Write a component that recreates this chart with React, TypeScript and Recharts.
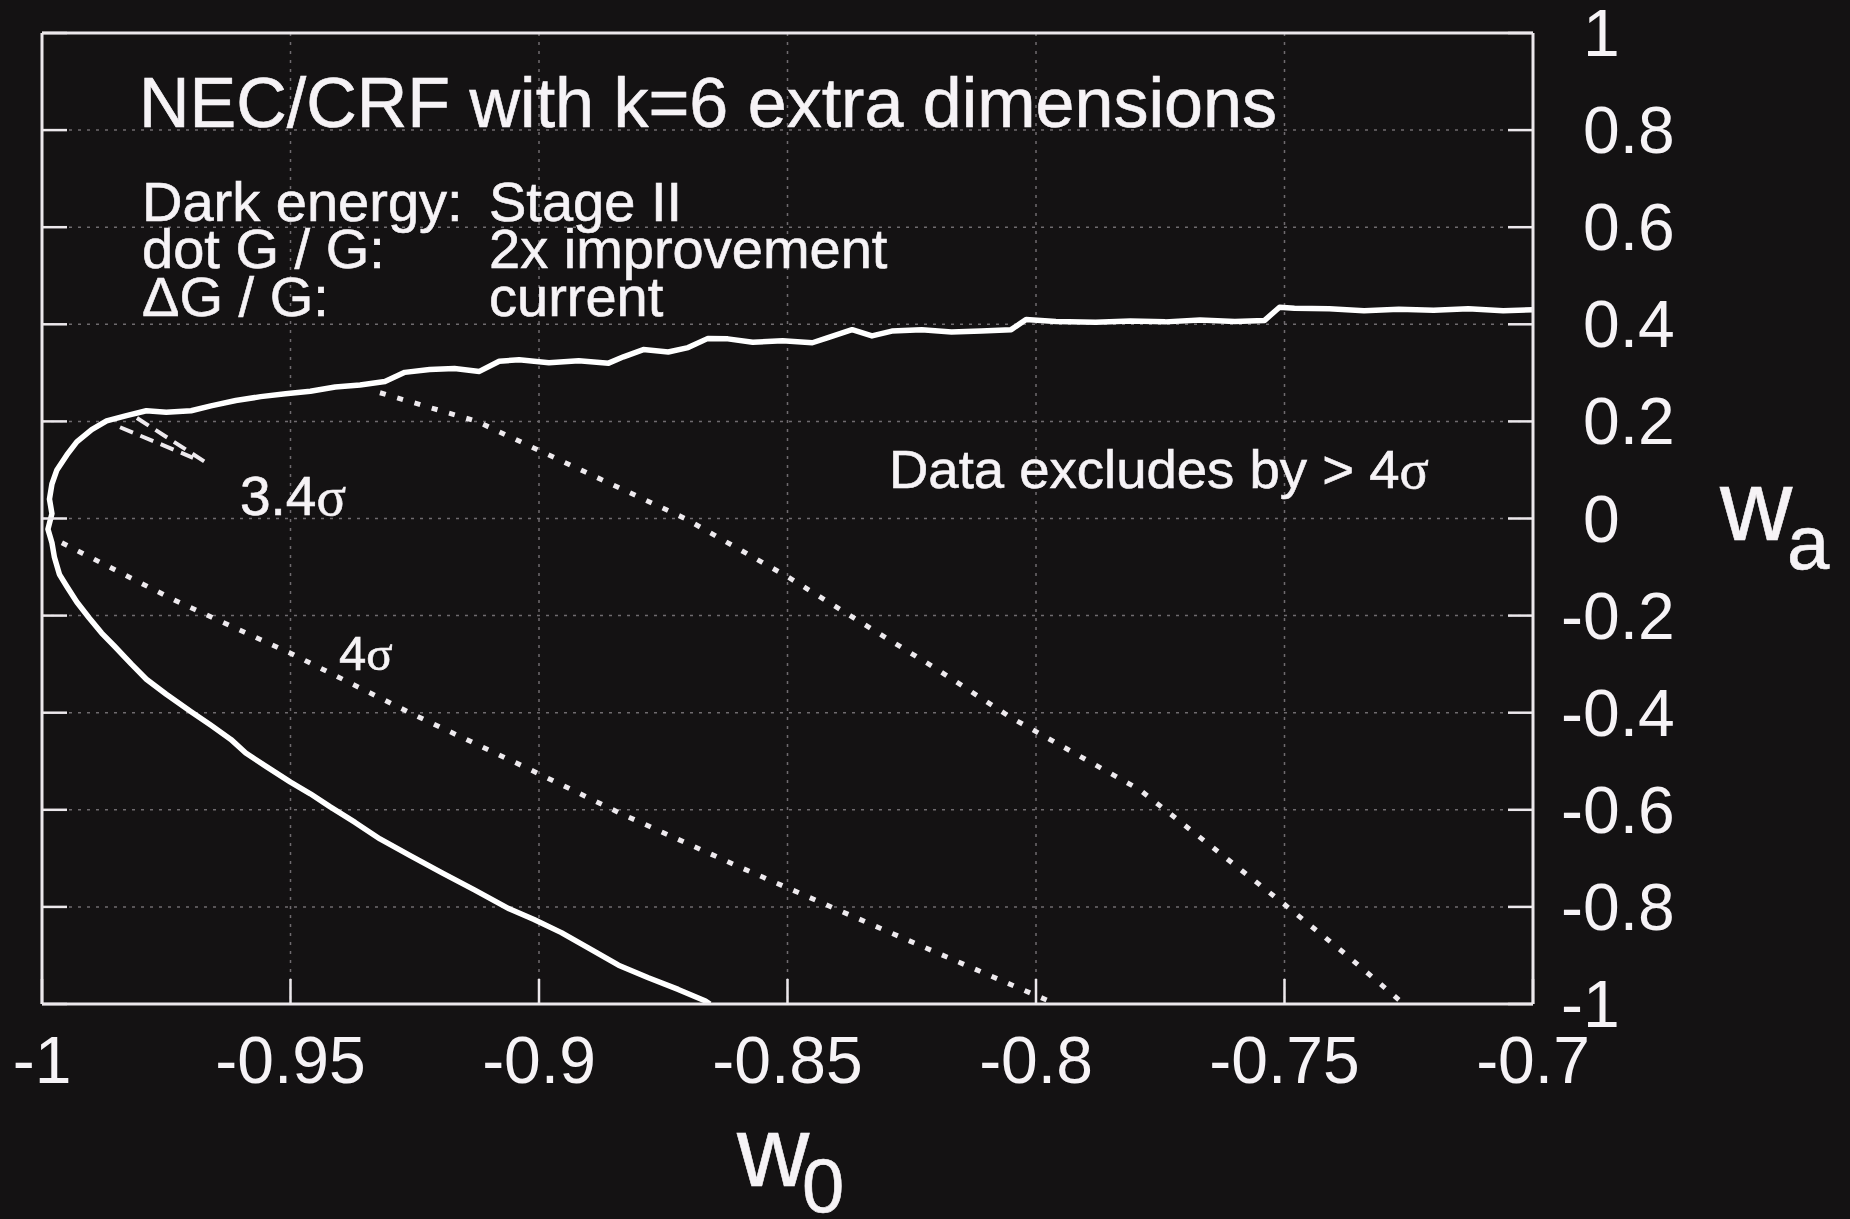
import React from "react";
import { ComposedChart, Line, XAxis, YAxis, CartesianGrid } from "recharts";

const BG = "#141213";
const FRAME = "#ece8ec";
const TEXT = "#f6f3f6";
const GRID = "#6f6b6f";
const FONT = "'Liberation Sans', Arial, Helvetica, sans-serif";
const SERIF = "'Liberation Serif', 'Times New Roman', serif";
const TICK_LEN = 25;

// axis ticks
const xTicks = [-1, -0.95, -0.9, -0.85, -0.8, -0.75, -0.7];
const yTicks = [-1, -0.8, -0.6, -0.4, -0.2, 0, 0.2, 0.4, 0.6, 0.8, 1];

// outer (solid, noisy) contour, upper branch right -> left, then down the lower branch
const contourW0 = [
  -0.7, -0.706, -0.713, -0.72, -0.727, -0.734, -0.741, -0.748, -0.751, -0.754, -0.76, -0.767, -0.774, -0.781,
  -0.788, -0.796, -0.802, -0.805, -0.811, -0.817, -0.823, -0.829, -0.833, -0.837, -0.842, -0.845, -0.851, -0.857,
  -0.862, -0.866, -0.87, -0.874, -0.879, -0.883, -0.886, -0.892, -0.898, -0.904, -0.908, -0.912, -0.917, -0.922,
  -0.927, -0.931, -0.936, -0.941, -0.946, -0.951, -0.956, -0.961, -0.966, -0.97, -0.975, -0.979, -0.983, -0.987,
  -0.99, -0.993, -0.995, -0.997, -0.998, -0.9985, -0.998, -0.9988, -0.998, -0.9975, -0.9965, -0.995, -0.993,
  -0.9905, -0.988, -0.9855, -0.982, -0.979, -0.975, -0.97, -0.966, -0.962, -0.959, -0.955, -0.95, -0.946, -0.942,
  -0.937, -0.932, -0.926, -0.9195, -0.913, -0.906, -0.901, -0.8955, -0.89, -0.884, -0.878, -0.872, -0.8665, -0.8656,
];
const contourWa = [
  0.43, 0.428, 0.432, 0.429, 0.431, 0.428, 0.432, 0.433, 0.435, 0.408, 0.406, 0.409, 0.405, 0.407,
  0.404, 0.406, 0.41, 0.389, 0.386, 0.384, 0.389, 0.386, 0.376, 0.389, 0.372, 0.362, 0.366, 0.363,
  0.37, 0.371, 0.352, 0.343, 0.348, 0.333, 0.32, 0.325, 0.321, 0.327, 0.324, 0.303, 0.309, 0.307,
  0.301, 0.282, 0.275, 0.271, 0.262, 0.257, 0.251, 0.243, 0.232, 0.222, 0.219, 0.222, 0.212, 0.201,
  0.183, 0.158, 0.131, 0.1, 0.071, 0.04, 0.01, -0.022, -0.05, -0.08, -0.115, -0.14, -0.172,
  -0.205, -0.236, -0.262, -0.3, -0.331, -0.362, -0.398, -0.426, -0.455, -0.483, -0.51, -0.543, -0.567, -0.594,
  -0.626, -0.66, -0.694, -0.73, -0.765, -0.804, -0.826, -0.853, -0.885, -0.92, -0.946, -0.97, -0.994, -1.0,
];

// outer 4 sigma dotted curve
const outer4W0 = [-0.932, -0.9125, -0.892, -0.8706, -0.85, -0.8374, -0.82, -0.8052, -0.7791, -0.765, -0.75, -0.738, -0.726];
const outer4Wa = [0.259, 0.2, 0.102, 0.0, -0.12, -0.2, -0.31, -0.409, -0.559, -0.673, -0.795, -0.895, -1.0];

// inner 4 sigma dotted curve
const inner4W0 = [-0.996, -0.9734, -0.9501, -0.9258, -0.9016, -0.8837, -0.8596, -0.83, -0.796];
const inner4Wa = [-0.05, -0.168, -0.277, -0.401, -0.518, -0.607, -0.718, -0.85, -1.0];

// 3.4 sigma dashed stubs
const dashAW0 = [-0.9809, -0.9668];
const dashAWa = [0.207, 0.114];
const dashBW0 = [-0.9843, -0.9696];
const dashBWa = [0.188, 0.125];

const zip = (xs: number[], ys: number[]) => xs.map((x, i) => ({ x, y: ys[i] }));

const contour = zip(contourW0, contourWa);
const outer4 = zip(outer4W0, outer4Wa);
const inner4 = zip(inner4W0, inner4Wa);
const dashA = zip(dashAW0, dashAWa);
const dashB = zip(dashBW0, dashBWa);

// tickSize/tickMargin are 0, so x/y below sit on the frame edge
const BottomTick = (props: any) => {
  const { x, y, payload } = props;
  return (
    <g>
      <line x1={x} y1={y} x2={x} y2={y - TICK_LEN} stroke={FRAME} strokeWidth={2.5} />
      <text x={x} y={y + 79} textAnchor="middle" fill={TEXT} fontSize={66} fontFamily={FONT}>
        {String(payload.value)}
      </text>
    </g>
  );
};

const TopTick = (props: any) => {
  const { x, y } = props;
  return <line x1={x} y1={y} x2={x} y2={y + TICK_LEN} stroke={FRAME} strokeWidth={2.5} />;
};

const RightTick = (props: any) => {
  const { x, y, payload } = props;
  const neg = payload.value < 0;
  return (
    <g>
      <line x1={x} y1={y} x2={x - TICK_LEN} y2={y} stroke={FRAME} strokeWidth={2.5} />
      <text x={x + 50 - (neg ? 22 : 0)} y={y + 23} textAnchor="start" fill={TEXT} fontSize={66} fontFamily={FONT}>
        {String(payload.value)}
      </text>
    </g>
  );
};

const LeftTick = (props: any) => {
  const { x, y } = props;
  return <line x1={x} y1={y} x2={x + TICK_LEN} y2={y} stroke={FRAME} strokeWidth={2.5} />;
};

const Sigma = () => <tspan fontFamily={SERIF}>σ</tspan>;

export default function App() {
  return (
    <div style={{ position: "absolute", left: 0, top: 0, width: 1850, height: 1219, background: BG, overflow: "hidden" }}>
      <ComposedChart width={1850} height={1219} margin={{ top: 3, right: 217, bottom: 115, left: 12 }}>
        <CartesianGrid stroke={GRID} strokeWidth={1.5} strokeDasharray="3 6" />
        <XAxis
          type="number"
          dataKey="x"
          domain={[-1, -0.7]}
          ticks={xTicks}
          interval={0}
          allowDataOverflow
          height={100}
          tickSize={0}
          tickMargin={0}
          tickLine={false}
          axisLine={{ stroke: FRAME, strokeWidth: 3 }}
          tick={(p: any) => <BottomTick {...p} />}
        />
        <XAxis
          xAxisId="top"
          orientation="top"
          type="number"
          domain={[-1, -0.7]}
          ticks={xTicks}
          interval={0}
          allowDataOverflow
          height={30}
          tickSize={0}
          tickMargin={0}
          tickLine={false}
          axisLine={{ stroke: FRAME, strokeWidth: 3 }}
          tick={(p: any) => <TopTick {...p} />}
        />
        <YAxis
          orientation="right"
          type="number"
          domain={[-1, 1]}
          ticks={yTicks}
          interval={0}
          allowDataOverflow
          width={100}
          tickSize={0}
          tickMargin={0}
          tickLine={false}
          axisLine={{ stroke: FRAME, strokeWidth: 3 }}
          tick={(p: any) => <RightTick {...p} />}
        />
        <YAxis
          yAxisId="left"
          orientation="left"
          type="number"
          domain={[-1, 1]}
          ticks={yTicks}
          interval={0}
          allowDataOverflow
          width={30}
          tickSize={0}
          tickMargin={0}
          tickLine={false}
          axisLine={{ stroke: FRAME, strokeWidth: 3 }}
          tick={(p: any) => <LeftTick {...p} />}
        />
        <Line data={outer4} dataKey="y" type="linear" dot={false} stroke="#eeeaee" strokeWidth={5}
          strokeDasharray="6 12" isAnimationActive={false} />
        <Line data={inner4} dataKey="y" type="linear" dot={false} stroke="#eeeaee" strokeWidth={5}
          strokeDasharray="6 12" isAnimationActive={false} />
        <Line data={dashA} dataKey="y" type="linear" dot={false} stroke="#eeeaee" strokeWidth={4}
          strokeDasharray="14 8" isAnimationActive={false} />
        <Line data={dashB} dataKey="y" type="linear" dot={false} stroke="#eeeaee" strokeWidth={4}
          strokeDasharray="14 8" isAnimationActive={false} />
        <Line data={contour} dataKey="y" type="linear" dot={false} stroke="#ffffff" strokeWidth={5.5}
          strokeLinejoin="round" isAnimationActive={false} />
      </ComposedChart>

      <svg width={1850} height={1219} style={{ position: "absolute", left: 0, top: 0, pointerEvents: "none" }}>
        <g fill={TEXT} stroke={TEXT} strokeWidth={0.6} fontFamily={FONT}>
          <text x={139} y={127} fontSize={70}>NEC/CRF with k=6 extra dimensions</text>

          <text x={142} y={221} fontSize={56}>Dark energy:</text>
          <text x={489} y={221} fontSize={56}>Stage II</text>
          <text x={142} y={268} fontSize={56}>dot G / G:</text>
          <text x={489} y={268} fontSize={56}>2x improvement</text>
          <text x={142} y={316} fontSize={56}>ΔG / G:</text>
          <text x={489} y={316} fontSize={56}>current</text>

          <text x={889} y={488} fontSize={54.5}>
            Data excludes by {">"} 4<Sigma />
          </text>
          <text x={240} y={515} fontSize={55}>
            3.4<Sigma />
          </text>
          <text x={339} y={670} fontSize={49}>
            4<Sigma />
          </text>

          <text x={1720} y={540} fontSize={100}>w</text>
          <text x={1787} y={569} fontSize={76}>a</text>
          <text x={737} y={1186} fontSize={100}>w</text>
          <text x={802} y={1212} fontSize={76}>0</text>
        </g>
      </svg>
    </div>
  );
}
